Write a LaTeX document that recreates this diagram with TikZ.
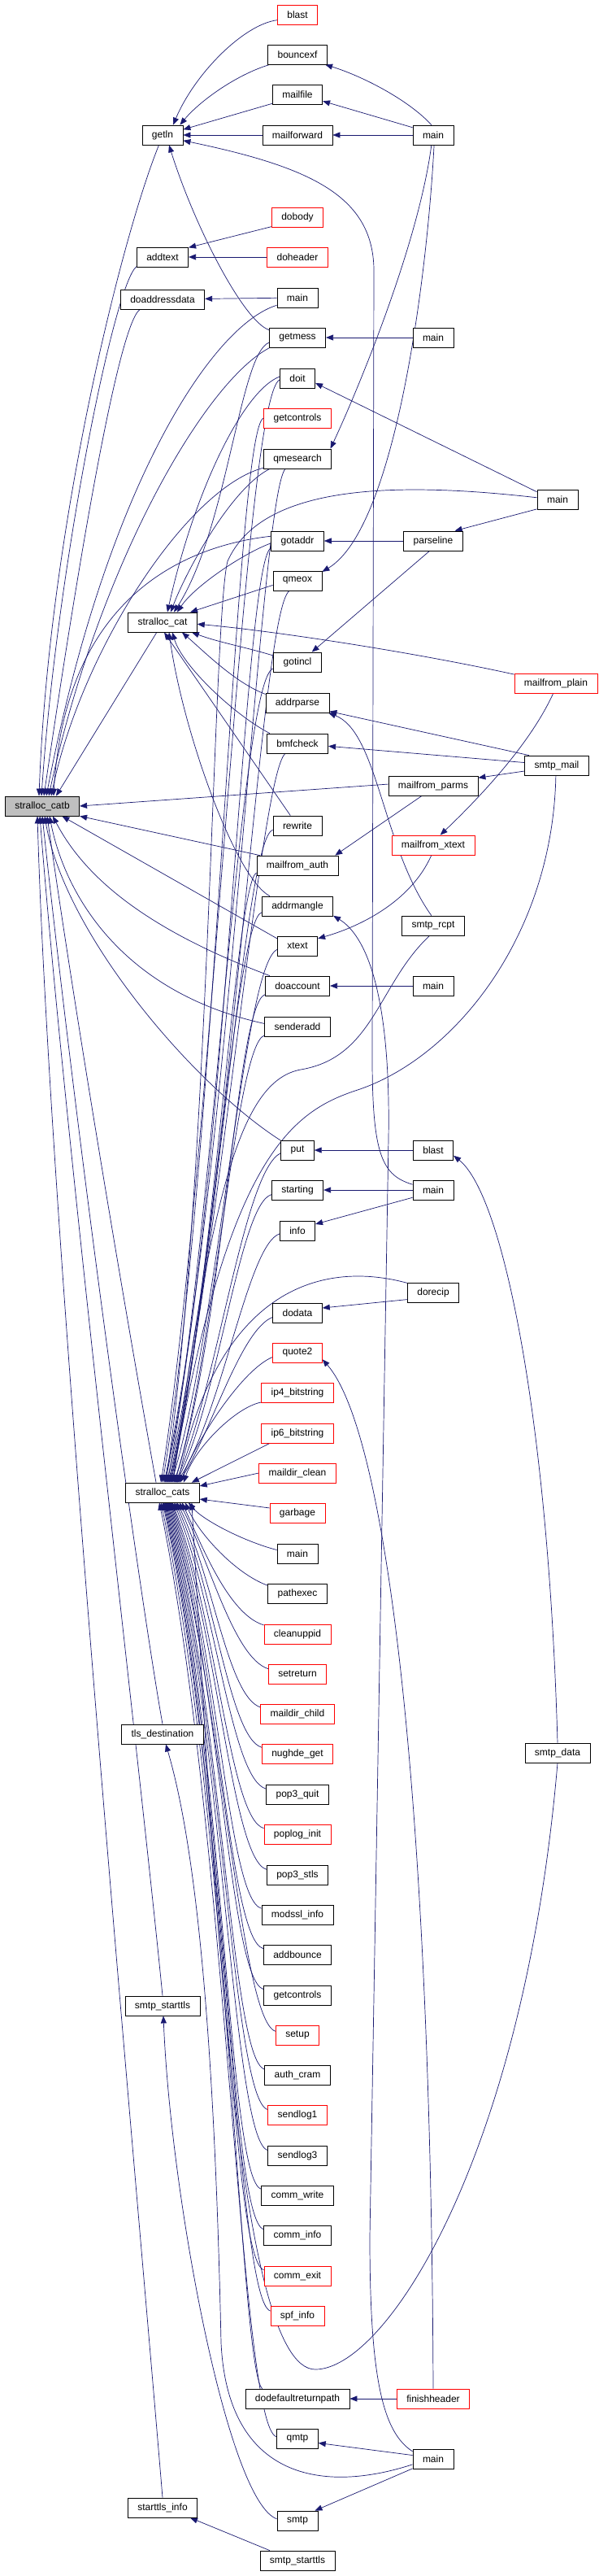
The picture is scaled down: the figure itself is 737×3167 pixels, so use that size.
\documentclass[tikz,border=0pt]{standalone}
\usepackage{fontspec}
\setmainfont{Liberation Sans}
\usepackage{tikz}
\usetikzlibrary{arrows.meta,backgrounds}
\definecolor{edgeblue}{rgb}{0.098,0.098,0.439}
\definecolor{rootgray}{rgb}{0.75,0.75,0.75}
\tikzset{
  func/.style={draw=black, fill=white, line width=0.8bp, minimum height=24bp,
    inner xsep=12bp, inner ysep=0bp, font=\fontsize{12bp}{14bp}\selectfont},
  funcred/.style={func, draw=red},
  funcroot/.style={func, fill=rootgray},
  callto/.style={draw=edgeblue, line width=0.7bp, -{Triangle[length=9bp,width=7bp]}}
}
\begin{document}
\begin{tikzpicture}[x=1bp,y=-1bp]
\useasboundingbox (0,0) rectangle (737,3167);
\node[funcroot] (catb) at (52,991) {stralloc\_catb};
\node[func] (getln) at (200,166) {getln};
\node[func] (addtext) at (200,316) {addtext};
\node[func] (doaddr) at (200,368) {doaddressdata};
\node[func] (scat) at (200,765) {stralloc\_cat};
\node[func] (scats) at (200,1835) {stralloc\_cats};
\node[func] (tlsdest) at (200,2132) {tls\_destination};
\node[func] (starttlsA) at (200,2466) {smtp\_starttls};
\node[func] (sinfo) at (200,3083) {starttls\_info};
\node[funcred] (blastA) at (366,18) {blast};
\node[func] (bouncexf) at (366,67) {bouncexf};
\node[func] (mailfile) at (366,116) {mailfile};
\node[func] (mailforward) at (366,166) {mailforward};
\node[funcred] (dobody) at (366,267) {dobody};
\node[funcred] (doheader) at (366,316) {doheader};
\node[func] (mainB) at (366,366) {main};
\node[func] (getmess) at (366,415) {getmess};
\node[func] (doit) at (366,465) {doit};
\node[funcred] (getctlA) at (366,514) {getcontrols};
\node[func] (qmesearch) at (366,564) {qmesearch};
\node[func] (gotaddr) at (366,665) {gotaddr};
\node[func] (qmeox) at (366,714) {qmeox};
\node[func] (gotincl) at (366,814) {gotincl};
\node[func] (addrparse) at (366,864) {addrparse};
\node[func] (bmfcheck) at (366,914) {bmfcheck};
\node[func] (rewrite) at (366,1015) {rewrite};
\node[func] (mfauth) at (366,1064) {mailfrom\_auth};
\node[func] (addrmangle) at (366,1114) {addrmangle};
\node[func] (xtext) at (366,1163) {xtext};
\node[func] (doaccount) at (366,1212) {doaccount};
\node[func] (senderadd) at (366,1262) {senderadd};
\node[func] (put) at (366,1414) {put};
\node[func] (starting) at (366,1463) {starting};
\node[func] (info) at (366,1513) {info};
\node[func] (dodata) at (366,1614) {dodata};
\node[funcred] (quote2) at (366,1663) {quote2};
\node[funcred] (ipfour) at (366,1712) {ip4\_bitstring};
\node[funcred] (ipsix) at (366,1762) {ip6\_bitstring};
\node[funcred] (mdclean) at (366,1811) {maildir\_clean};
\node[funcred] (garbage) at (366,1860) {garbage};
\node[func] (mainG) at (366,1910) {main};
\node[func] (pathexec) at (366,1959) {pathexec};
\node[funcred] (cleanuppid) at (366,2009) {cleanuppid};
\node[funcred] (setreturn) at (366,2058) {setreturn};
\node[funcred] (mdchild) at (366,2107) {maildir\_child};
\node[funcred] (nughde) at (366,2156) {nughde\_get};
\node[func] (popquit) at (366,2206) {pop3\_quit};
\node[funcred] (poplog) at (366,2255) {poplog\_init};
\node[func] (popstls) at (366,2305) {pop3\_stls};
\node[func] (modssl) at (366,2354) {modssl\_info};
\node[func] (addbounce) at (366,2403) {addbounce};
\node[func] (getctlB) at (366,2453) {getcontrols};
\node[funcred] (setup) at (366,2502) {setup};
\node[func] (authcram) at (366,2551) {auth\_cram};
\node[funcred] (sendlogA) at (366,2600) {sendlog1};
\node[func] (sendlogC) at (366,2650) {sendlog3};
\node[func] (cwrite) at (366,2699) {comm\_write};
\node[func] (cinfo) at (366,2748) {comm\_info};
\node[funcred] (cexit) at (366,2798) {comm\_exit};
\node[funcred] (spfinfo) at (366,2847) {spf\_info};
\node[func] (defret) at (366,2949) {dodefaultreturnpath};
\node[func] (qmtp) at (366,2998) {qmtp};
\node[func] (smtp) at (366,3099) {smtp};
\node[func] (starttlsB) at (366,3148) {smtp\_starttls};
\node[func] (mainA) at (533,166) {main};
\node[func] (mainC) at (533,415) {main};
\node[func] (parseline) at (533,665) {parseline};
\node[func] (mfparms) at (533,966) {mailfrom\_parms};
\node[funcred] (mfxtext) at (533,1039) {mailfrom\_xtext};
\node[func] (smtprcpt) at (533,1138) {smtp\_rcpt};
\node[func] (mainE) at (533,1212) {main};
\node[func] (blastB) at (533,1414) {blast};
\node[func] (mainF) at (533,1463) {main};
\node[func] (dorecip) at (533,1589) {dorecip};
\node[funcred] (finishheader) at (533,2949) {finishheader};
\node[func] (mainH) at (533,3023) {main};
\node[func] (mainD) at (686,614) {main};
\node[funcred] (mfplain) at (684,840) {mailfrom\_plain};
\node[func] (smtpmail) at (685,941) {smtp\_mail};
\node[func] (smtpdata) at (686,2155) {smtp\_data};
\begin{scope}[on background layer]
\draw[callto] (blastA.195) .. controls (300,30) and (240,90) .. ([xshift=13]getln.north);
\draw[callto] (bouncexf.200) .. controls (290,92) and (245,125) .. ([xshift=-4]getln.north east);
\draw[callto] (mailfile.200) -- (getln.15);
\draw[callto] (mailforward) -- (getln);
\draw[callto] (mainF.165) .. controls (470,1445) and (458,1420) .. (458,1300) -- (460,330) .. controls (458,240) and (380,205) .. (getln.-15);
\draw[callto] (getmess.165) .. controls (300,395) and (240,280) .. ([xshift=8]getln.south);
\draw[callto] (getln.-110) .. controls (150,290) and (60,650) .. ([xshift=-4]catb.north);
\draw[callto] (dobody.200) -- (addtext.20);
\draw[callto] (doheader) -- (addtext);
\draw[callto] (addtext.200) .. controls (140,350) and (70,700) .. ([xshift=-1]catb.north);
\draw[callto] (mainB) -- (doaddr);
\draw[callto] (doaddr.204) .. controls (145,400) and (95,700) .. ([xshift=2]catb.north);
\draw[callto] (mainB.200) .. controls (260,400) and (130,600) .. ([xshift=5]catb.north);
\draw[callto] (mainC) -- (getmess);
\draw[callto] (getmess.190) .. controls (295,435) and (280,650) .. ([xshift=14]scat.north);
\draw[callto] (getmess.200) .. controls (250,470) and (120,700) .. ([xshift=8]catb.north);
\draw[callto] (mainA.100) .. controls (505,125) and (450,95) .. (bouncexf.-20);
\draw[callto] (mainA.160) -- (mailfile.-15);
\draw[callto] (mainA) -- (mailforward);
\draw[callto] (mainA.-100) .. controls (515,300) and (440,480) .. (qmesearch.17);
\draw[callto] (mainA.-85) .. controls (525,350) and (485,650) .. (qmeox.20);
\draw[callto] (mainD.160) -- (doit.-15);
\draw[callto] (mainD.205) -- (parseline.25);
\draw[callto] (mainD.175) .. controls (470,590) and (320,600) .. (280,690) .. controls (262,760) and (258,1450) .. ([xshift=4]scats.north);
\draw[callto] (doit.175) .. controls (300,480) and (240,600) .. ([xshift=6]scat.north);
\draw[callto] (doit.185) .. controls (300,490) and (262,1416) .. ([xshift=-2]scats.north);
\draw[callto] (getctlA.west) .. controls (290,526) and (266,1430) .. (scats.north);
\draw[callto] (qmesearch.195) .. controls (230,600) and (100,800) .. ([xshift=11]catb.north);
\draw[callto] (qmesearch.200) .. controls (285,600) and (230,700) .. ([xshift=10]scat.north);
\draw[callto] ([xshift=-15]qmesearch.south) .. controls (320,610) and (282,1445) .. ([xshift=2]scats.north);
\draw[callto] (parseline) -- (gotaddr);
\draw[callto] (gotaddr.170) .. controls (220,672) and (80,740) .. ([xshift=14]catb.north);
\draw[callto] (gotaddr.185) .. controls (300,680) and (240,720) .. ([xshift=18]scat.north);
\draw[callto] (gotaddr.195) .. controls (300,690) and (278,1476) .. ([xshift=3]scats.north);
\draw[callto] (qmeox.190) -- (scat.20);
\draw[callto] ([xshift=-10]qmeox.south) .. controls (320,750) and (284,1490) .. ([xshift=5]scats.north);
\draw[callto] (scat.-120) -- ([xshift=17]catb.north);
\draw[callto] (mfplain.168) .. controls (500,800) and (330,775) .. (scat.-3);
\draw[callto] (parseline.-110) -- (gotincl.35);
\draw[callto] (gotincl.165) .. controls (300,795) and (270,790) .. ([xshift=36]scat.south);
\draw[callto] (gotincl.195) .. controls (296,830) and (262,1520) .. ([xshift=6]scats.north);
\draw[callto] (smtpmail.160) -- (addrparse.-15);
\draw[callto] (smtprcpt.100) .. controls (470,1040) and (465,900) .. (addrparse.-18);
\draw[callto] (addrparse.165) .. controls (290,840) and (250,800) .. ([xshift=24]scat.south);
\draw[callto] (smtpmail.175) -- (bmfcheck.-5);
\draw[callto] (bmfcheck.160) .. controls (290,880) and (225,820) .. ([xshift=12]scat.south);
\draw[callto] ([xshift=-15]bmfcheck.south) .. controls (320,950) and (270,1550) .. ([xshift=7]scats.north);
\draw[callto] (rewrite.125) -- ([xshift=2]scat.south);
\draw[callto] (rewrite.190) .. controls (300,1030) and (266,1580) .. ([xshift=8]scats.north);
\draw[callto] (smtpmail.190) -- (mfparms.10);
\draw[callto] (mfparms.178) -- (catb.east);
\draw[callto] ([xshift=-14]mfparms.south) -- (mfauth.15);
\draw[callto] (mfauth.165) -- (catb.-15);
\draw[callto] (mfauth.190) .. controls (290,1085) and (262,1595) .. ([xshift=9]scats.north);
\draw[callto] (mfplain.-105) .. controls (650,920) and (580,990) .. (mfxtext.55);
\draw[callto] (mfxtext.-100) .. controls (505,1110) and (440,1140) .. (xtext.20);
\draw[callto] (xtext.160) -- (catb.-27);
\draw[callto] (xtext.190) .. controls (300,1185) and (270,1625) .. ([xshift=11]scats.north);
\draw[callto] (addrmangle.160) .. controls (290,1080) and (225,900) .. ([xshift=8]scat.south);
\draw[callto] (addrmangle.190) .. controls (290,1130) and (258,1610) .. ([xshift=10]scats.north);
\draw[callto] (mainH.160) .. controls (470,2990) and (455,2920) .. (455,2750) -- (478,1400) .. controls (481,1220) and (450,1150) .. (addrmangle.-15);
\draw[callto] (smtpmail.-95) .. controls (680,1150) and (560,1300) .. (440,1340) .. controls (360,1366) and (280,1420) .. ([xshift=12]scats.north);
\draw[callto] (smtprcpt.-110) .. controls (465,1210) and (460,1300) .. (370,1315) .. controls (300,1328) and (262,1450) .. ([xshift=13]scats.north);
\draw[callto] (mainE) -- (doaccount);
\draw[callto] (doaccount.160) .. controls (200,1150) and (110,1090) .. ([xshift=13]catb.south);
\draw[callto] (doaccount.195) .. controls (290,1235) and (275,1640) .. ([xshift=14]scats.north);
\draw[callto] (senderadd.175) .. controls (150,1220) and (80,1100) .. ([xshift=9]catb.south);
\draw[callto] (senderadd.195) .. controls (290,1285) and (265,1655) .. ([xshift=15]scats.north);
\draw[callto] (blastB) -- (put);
\draw[callto] (smtpdata.north) .. controls (675,1750) and (620,1470) .. (blastB.-15);
\draw[callto] (put.150) .. controls (240,1335) and (80,1150) .. ([xshift=3]catb.south);
\draw[callto] (put.190) .. controls (300,1440) and (268,1700) .. ([xshift=16]scats.north);
\draw[callto] (mainF) -- (starting);
\draw[callto] (mainF.200) -- (info.20);
\draw[callto] (starting.190) .. controls (295,1480) and (270,1715) .. ([xshift=17]scats.north);
\draw[callto] (info.190) .. controls (305,1530) and (275,1730) .. ([xshift=18]scats.north);
\draw[callto] (dorecip.195) -- (dodata.11);
\draw[callto] (dorecip.160) .. controls (400,1550) and (270,1580) .. ([xshift=19]scats.north);
\draw[callto] (dodata.190) .. controls (296,1635) and (260,1760) .. ([xshift=20]scats.north);
\draw[callto] (finishheader.north) .. controls (530,2200) and (475,1760) .. (quote2.-15);
\draw[callto] (quote2.190) .. controls (296,1685) and (240,1775) .. ([xshift=22]scats.north);
\draw[callto] (ipfour.195) .. controls (290,1730) and (240,1780) .. ([xshift=26]scats.north);
\draw[callto] (ipsix.200) -- ([xshift=-10]scats.north east);
\draw[callto] (mdclean.west) -- (scats.10);
\draw[callto] (garbage.170) -- (scats.-10);
\draw[callto] (mainG.170) .. controls (300,1895) and (250,1869) .. ([xshift=32]scats.south);
\draw[callto] (pathexec.165) .. controls (290,1935) and (245,1886) .. ([xshift=28]scats.south);
\draw[callto] (cleanuppid.165) .. controls (282,1985) and (250,1904) .. ([xshift=24]scats.south);
\draw[callto] (setreturn.170) .. controls (288,2038) and (258,1921) .. ([xshift=21]scats.south);
\draw[callto] (mdchild.170) .. controls (280,2085) and (262,1938) .. ([xshift=18]scats.south);
\draw[callto] (nughde.170) .. controls (282,2136) and (264,1955) .. ([xshift=16]scats.south);
\draw[callto] (popquit.170) .. controls (284,2187) and (266,1973) .. ([xshift=14]scats.south);
\draw[callto] (poplog.170) .. controls (282,2236) and (267,1990) .. ([xshift=12]scats.south);
\draw[callto] (popstls.170) .. controls (285,2286) and (268,2007) .. ([xshift=11]scats.south);
\draw[callto] (modssl.170) .. controls (280,2335) and (269,2025) .. ([xshift=10]scats.south);
\draw[callto] (addbounce.170) .. controls (281,2384) and (270,2042) .. ([xshift=9]scats.south);
\draw[callto] (getctlB.170) .. controls (282,2434) and (271,2059) .. ([xshift=8]scats.south);
\draw[callto] (setup.170) .. controls (295,2484) and (272,2076) .. ([xshift=7]scats.south);
\draw[callto] (authcram.170) .. controls (284,2532) and (273,2093) .. ([xshift=6]scats.south);
\draw[callto] (sendlogA.170) .. controls (286,2581) and (274,2110) .. ([xshift=5]scats.south);
\draw[callto] (sendlogC.170) .. controls (286,2631) and (275,2128) .. ([xshift=4]scats.south);
\draw[callto] (cwrite.170) .. controls (280,2680) and (276,2145) .. ([xshift=3]scats.south);
\draw[callto] (cinfo.170) .. controls (282,2729) and (277,2162) .. ([xshift=2]scats.south);
\draw[callto] (cexit.170) .. controls (282,2779) and (278,2180) .. ([xshift=1]scats.south);
\draw[callto] (spfinfo.170) .. controls (290,2828) and (279,2197) .. (scats.south);
\draw[callto] (defret.164) .. controls (295,2915) and (282,2233) .. ([xshift=-2]scats.south);
\draw[callto] (qmtp.175) .. controls (295,2985) and (280,2250) .. ([xshift=-4]scats.south);
\draw[callto] (smtpdata.south) .. controls (645,2650) and (475,2913) .. (388,2913) .. controls (290,2913) and (262,2300) .. ([xshift=36]scats.south);
\draw[callto] (finishheader) -- (defret);
\draw[callto] (mainH.170) -- (qmtp.-12);
\draw[callto] (mainH.205) -- (smtp.30);
\draw[callto] (mainH.195) .. controls (400,3065) and (280,3050) .. (272,2880) .. controls (266,2600) and (250,2300) .. ([xshift=4]tlsdest.south);
\draw[callto] (smtp.175) .. controls (280,3075) and (210,2700) .. ([xshift=1]starttlsA.south);
\draw[callto] (starttlsB.160) -- (sinfo.-20);
\draw[callto] (sinfo.north) .. controls (165,2650) and (60,1500) .. ([xshift=-6]catb.south);
\draw[callto] (starttlsA.north) .. controls (170,2150) and (80,1400) .. ([xshift=-3]catb.south);
\draw[callto] (tlsdest.north) .. controls (175,1980) and (100,1450) .. (catb.south);
\draw[callto] ([xshift=-8]scats.north) .. controls (170,1700) and (100,1300) .. ([xshift=6]catb.south);
\end{scope}
\end{tikzpicture}
\end{document}
